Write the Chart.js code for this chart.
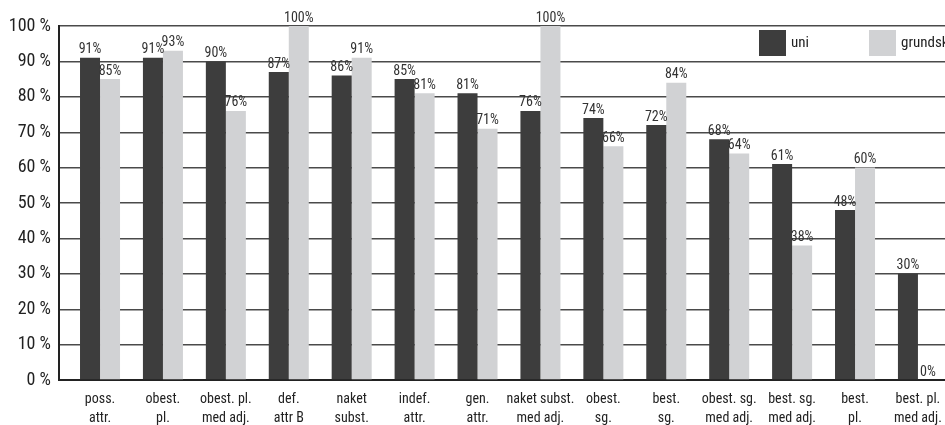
<!DOCTYPE html>
<html>
<head>
<meta charset="utf-8">
<script src="https://cdn.jsdelivr.net/npm/chart.js@4/dist/chart.umd.min.js"></script>
<style>
html,body{margin:0;padding:0;background:#fff;overflow:hidden;}
#wrap{width:945px;height:425px;position:relative;}
</style>
</head>
<body>
<div id="wrap"><canvas id="c" width="945" height="425"></canvas></div>
<script>
const categories = [
  ["poss.", "attr."], ["obest.", "pl."], ["obest. pl.", "med adj."], ["def.", "attr B"],
  ["naket", "subst."], ["indef.", "attr."], ["gen.", "attr."], ["naket subst.", "med adj."],
  ["obest.", "sg."], ["best.", "sg."], ["obest. sg.", "med adj."], ["best. sg.", "med adj."],
  ["best.", "pl."], ["best. pl.", "med adj."]
];
const uni = [91, 91, 90, 87, 86, 85, 81, 76, 74, 72, 68, 61, 48, 30];
const grundsk = [85, 93, 76, 100, 91, 81, 71, 100, 66, 84, 64, 38, 60, 0];
const seriesNames = ["uni", "grundsk"];
const yTicks = [0, 10, 20, 30, 40, 50, 60, 70, 80, 90, 100];

const FONT = '"Roboto Condensed", "DejaVu Sans Condensed", "Liberation Sans", sans-serif';
const DARK = '#3d3d3d';
const LIGHT = '#d1d2d4';

const toPoints = arr => arr.map((v, i) => ({x: i, y: v}));

const labelPlugin = {
  id: 'valueLabels',
  afterDatasetsDraw(chart) {
    const ctx = chart.ctx;
    ctx.save();
    ctx.font = '14px ' + FONT;
    ctx.fillStyle = '#333';
    ctx.textAlign = 'center';
    ctx.textBaseline = 'bottom';
    chart.data.datasets.forEach((ds, di) => {
      const meta = chart.getDatasetMeta(di);
      meta.data.forEach((el, i) => {
        const v = ds.data[i].y;
        ctx.fillText(v + '%', el.x, el.y - 1);
      });
    });
    ctx.restore();
  }
};

const legendPlugin = {
  id: 'boxLegend',
  afterDraw(chart) {
    const ctx = chart.ctx;
    const area = chart.chartArea;
    const start = area.right - 186;
    const step = 110;
    ctx.save();
    ctx.font = '15px ' + FONT;
    ctx.textBaseline = 'middle';
    ctx.textAlign = 'left';
    chart.data.datasets.forEach((ds, i) => {
      const x = start + i * step;
      const y = area.top + 4;
      ctx.fillStyle = ds.backgroundColor;
      ctx.fillRect(x, y, 27, 26);
      ctx.fillStyle = '#222';
      ctx.fillText(ds.label, x + 32, y + 13);
    });
    ctx.restore();
  }
};

new Chart(document.getElementById('c'), {
  type: 'bar',
  data: {
    datasets: [
      {label: seriesNames[0], data: toPoints(uni), backgroundColor: DARK},
      {label: seriesNames[1], data: toPoints(grundsk), backgroundColor: LIGHT}
    ]
  },
  options: {
    responsive: false,
    animation: false,
    devicePixelRatio: 1,
    layout: {padding: {top: 26, right: 0, bottom: 0, left: 0}},
    datasets: {bar: {categoryPercentage: 0.636, barPercentage: 1.0}},
    plugins: {legend: {display: false}, tooltip: {enabled: false}},
    scales: {
      x: {
        type: 'linear',
        offset: false,
        min: -0.652,
        max: 13.43,
        afterBuildTicks: s => { s.ticks = categories.map((_, i) => ({value: i})); },
        afterFit: s => { s.height = 45; s.paddingLeft = 0; s.paddingRight = 0; },
        grid: {display: false, drawTicks: false, offset: false},
        border: {display: true, color: '#222', width: 2},
        ticks: {
          autoSkip: false,
          maxRotation: 0,
          padding: 10,
          color: '#222',
          font: {family: FONT, size: 14, lineHeight: 1.35},
          callback: v => categories[v]
        }
      },
      y: {
        min: 0,
        max: 100,
        afterBuildTicks: s => { s.ticks = yTicks.map(v => ({value: v})); },
        afterFit: s => { s.width = 59; },
        grid: {color: '#4a4a4a', lineWidth: 1.4, drawTicks: false},
        border: {display: true, color: '#222', width: 2},
        ticks: {
          padding: 8,
          color: '#222',
          font: {family: FONT, size: 18},
          callback: v => v + ' %'
        }
      }
    }
  },
  plugins: [labelPlugin, legendPlugin]
});
</script>
</body>
</html>
